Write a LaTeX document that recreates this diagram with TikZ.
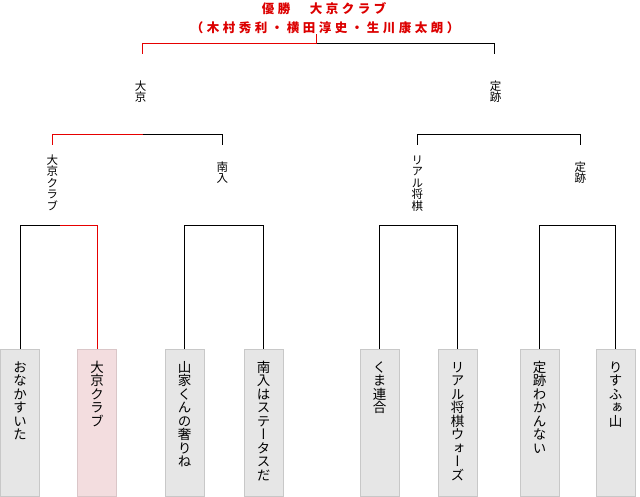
\documentclass[tikz,border=0pt]{standalone}
\usepackage{fontspec}
\setmainfont{Noto Sans CJK JP}
\newfontfamily\vjpfont[RawFeature=+vert]{Noto Sans CJK JP}
\newfontfamily\titlefont[LetterSpace=28]{Noto Sans CJK JP}
\makeatletter
\newcommand\vstack[1]{\vbox{\offinterlineskip\@tfor\vs@c:=#1\do{\hbox to 1em{\vrule height .88em depth .12em width 0pt\hss\vs@c\hss}}}}
\newcommand\teamtext[1]{\vbox to 147pt{\kern 11pt\vstack{#1}\vss}}
\makeatother
\definecolor{winred}{RGB}{230,0,0}
\definecolor{titlered}{RGB}{220,0,0}
\definecolor{boxfill}{RGB}{230,230,230}
\definecolor{boxline}{RGB}{200,200,200}
\definecolor{winfill}{RGB}{243,221,223}
\definecolor{winline}{RGB}{218,198,200}
\begin{document}
\begin{tikzpicture}[x=1pt,y=-1pt,line width=1pt,
  team/.style={anchor=north, draw=boxline, fill=boxfill, line width=0.9pt,
    minimum width=39pt, minimum height=147pt, inner sep=0pt,
    font=\vjpfont\fontsize{13.5}{14}\selectfont},
  winner/.style={team, draw=winline, fill=winfill},
  rlabel/.style={anchor=north, inner xsep=0pt,
    font=\vjpfont\fontsize{11.5}{12}\selectfont},
  titletext/.style={anchor=base, inner sep=0pt, text=titlered,
    font=\titlefont\bfseries\fontsize{12.5}{12.5}\selectfont},
  win/.style={draw=winred},
  lose/.style={draw=black}]
\useasboundingbox (0,0) rectangle (640,497);
% title
\node[titletext] (title1) at (324,14) {優勝　大京クラブ};
\node[titletext] (title2) at (325,32.5) {（木村秀利・横田淳史・生川康太朗）};
% teams
\node[team]   (b1) at (20,349)    {\teamtext{おなかすいた}};
\node[winner] (b2) at (97,349)    {\teamtext{大京クラブ}};
\node[team]   (b3) at (184.5,349) {\teamtext{山家くんの奢りね}};
\node[team]   (b4) at (263.5,349) {\teamtext{南入はステータスだ}};
\node[team]   (b5) at (379.5,349) {\teamtext{くま連合}};
\node[team]   (b6) at (457.5,349) {\teamtext{リアル将棋ウォーズ}};
\node[team]   (b7) at (539.5,349) {\teamtext{定跡わかんない}};
\node[team]   (b8) at (615.5,349) {\teamtext{りすふぁ山}};
% round 2 labels
\node[rlabel, inner ysep=8.5pt]  (s1) at (52.3,145)  {\vstack{大京クラブ}};
\node[rlabel, inner ysep=15.5pt] (s2) at (222.3,145) {\vstack{南入}};
\node[rlabel, inner ysep=8.5pt]  (s3) at (417.3,145) {\vstack{リアル将棋}};
\node[rlabel, inner ysep=15.5pt] (s4) at (580.3,145) {\vstack{定跡}};
% semifinal labels
\node[rlabel, inner ysep=0pt] (t1) at (140.5,79.5) {\vstack{大京}};
\node[rlabel, inner ysep=0pt] (t2) at (495.5,79.5) {\vstack{定跡}};
% joints
\coordinate (m1) at (60,225.5);
\coordinate (m2) at (223,225.5);
\coordinate (m3) at (418,225.5);
\coordinate (m4) at (578,225.5);
\coordinate (n1) at (142.5,134.7);
\coordinate (n2) at (499,134.7);
\coordinate (f1) at (142.3,54);
\coordinate (f2) at (494.3,54);
\coordinate (ft) at (316.7,43.3);
% round 1
\draw[lose] (b1.north) |- (m1);
\draw[win]  (m1) -| (b2.north);
\draw[lose] (b3.north) |- (m2) -| (b4.north);
\draw[lose] (b5.north) |- (m3) -| (b6.north);
\draw[lose] (b7.north) |- (m4) -| (b8.north);
% round 2
\draw[win]  (s1.north) |- (n1);
\draw[lose] (n1) -| (s2.north);
\draw[lose] (s3.north) |- (n2) -| (s4.north);
% final
\draw[win]  (f1) |- (ft);
\draw[lose] (ft) -| (f2);
\draw[win]  (ft |- title2.south) -- (ft);
\end{tikzpicture}
\end{document}
